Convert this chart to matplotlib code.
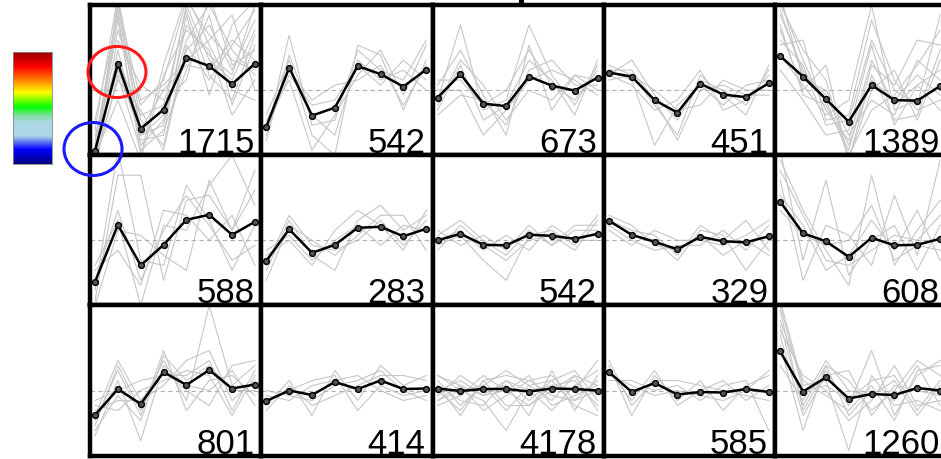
import numpy as np
import matplotlib
matplotlib.use("Agg")
import matplotlib.pyplot as plt
from matplotlib.colors import LinearSegmentedColormap
from matplotlib.patches import Ellipse

plt.rcParams.update({
    "font.family": "sans-serif",
    "font.sans-serif": ["Liberation Sans", "DejaVu Sans"],
})

# cluster sizes, row by row
counts = [1715, 542, 673, 451, 1389,
          588, 283, 542, 329, 608,
          801, 414, 4178, 585, 1260]

# mean profile of each cluster (8 time points, centred values)
means = [
    [-1.21, 0.53, -0.77, -0.39, 0.65, 0.48, 0.12, 0.53],
    [-0.73, 0.45, -0.51, -0.35, 0.48, 0.32, 0.07, 0.41],
    [-0.15, 0.32, -0.27, -0.32, 0.27, 0.09, -0.01, 0.25],
    [0.35, 0.27, -0.20, -0.45, 0.13, -0.09, -0.14, 0.14],
    [0.68, 0.27, -0.18, -0.63, 0.10, -0.20, -0.21, 0.08],
    [-0.83, 0.31, -0.50, -0.09, 0.41, 0.51, 0.11, 0.37],
    [-0.41, 0.22, -0.25, -0.09, 0.25, 0.27, 0.08, 0.23],
    [0.00, 0.13, -0.09, -0.10, 0.11, 0.09, 0.03, 0.13],
    [0.39, 0.11, -0.03, -0.18, 0.07, -0.02, -0.04, 0.08],
    [0.77, 0.14, -0.02, -0.33, 0.05, -0.10, -0.09, 0.03],
    [-0.49, 0.03, -0.27, 0.37, 0.11, 0.41, 0.04, 0.12],
    [-0.21, 0.00, -0.09, 0.17, 0.03, 0.20, 0.03, 0.04],
    [0.04, -0.01, 0.03, 0.03, -0.02, 0.04, 0.03, 0.00],
    [0.37, -0.03, 0.15, -0.08, -0.03, -0.04, 0.03, -0.03],
    [0.78, -0.02, 0.26, -0.16, -0.07, -0.09, 0.05, 0.00],
]

# a few member profiles per cluster (grey)
members = [
    [[-1.4, 1.8, -0.9, -0.5, 1.7, 0.6, 0.2, 1.2],
     [-1.0, 1.2, -0.3, 0.2, 1.8, 1.1, 0.6, 0.4],
     [-1.5, 0.3, -1.2, -0.8, 0.4, 1.5, -0.3, 0.9],
     [-0.8, 1.9, -0.6, -1.1, 0.9, 0.2, 0.9, 1.6],
     [-1.3, -0.2, -1.4, 0.3, 1.2, 0.8, -0.5, 0.2],
     [-1.2, 1.0, 0.1, -0.2, 0.2, 1.9, 0.5, 0.8],
     [-1.6, 0.8, -1.0, -0.9, 1.5, -0.1, 1.3, 1.8],
     [-0.6, 1.5, -1.3, 0.5, 1.9, 0.9, 0.0, -0.2],
     [-1.4, 0.2, -0.4, -1.2, 0.8, 1.3, 0.4, 1.4],
     [-1.1, 1.6, -0.8, 0.0, 0.5, 0.4, 1.0, 0.6],
     [-1.3, 1.4, -1.1, -0.6, 1.0, 1.7, 0.8, 0.3],
     [-0.9, 0.6, -0.5, -0.3, 1.6, 0.3, -0.2, 1.1],
     [-1.5, 1.7, -0.2, 0.1, 0.6, 1.0, 1.5, 0.0],
     [-1.2, 0.4, -0.9, -0.7, 1.3, 0.7, 0.3, 1.7]],
    [[-0.9, 1.1, -0.7, -0.6, 0.8, 0.4, 0.2, 1.0],
     [-0.5, 0.6, -0.9, -1.3, 0.9, 0.7, -0.4, 0.6],
     [-0.8, 0.3, -0.3, -0.2, 0.5, 0.1, 0.6, 0.2],
     [-0.6, 0.2, -1.2, -0.5, 0.3, 0.8, -0.1, 0.9],
     [-1.0, 0.7, -0.5, -0.9, 0.6, 0.2, 0.4, 0.0],
     [-0.7, 0.4, -0.2, 0.1, 0.2, 0.5, -0.3, 0.5]],
    [[-0.2, 1.3, -0.4, -0.2, 1.3, 0.3, -0.3, 0.5],
     [0.1, 0.8, -0.1, -0.9, 0.9, -0.4, 0.3, 0.2],
     [-0.4, 0.5, -0.6, -0.3, 0.6, 0.2, -0.5, 0.6],
     [0.0, 0.0, -0.9, -0.4, 0.2, 0.4, 0.2, -0.1],
     [-0.3, 0.6, 0.1, -0.6, 0.0, -0.2, 0.3, 0.0],
     [0.2, 0.2, -0.3, 0.0, 0.8, 0.1, -0.2, 0.4],
     [-0.5, -0.1, -0.2, -0.7, 0.4, 0.6, 0.1, 0.1]],
    [[0.3, 0.6, -0.1, -0.6, 0.2, 0.0, -0.3, 0.4],
     [0.4, 0.2, -1.1, -0.3, 0.1, -0.3, 0.1, 0.2],
     [0.2, 0.3, -0.3, -0.9, 0.3, -0.1, -0.5, 0.5],
     [0.5, 0.3, 0.0, -0.4, -0.3, 0.2, 0.0, 0.0],
     [0.3, 0.1, -0.4, -0.2, 0.4, -0.4, -0.2, 0.3],
     [0.4, 0.4, -0.2, -1.0, 0.0, 0.1, -0.1, -0.1]],
    [[1.8, 0.6, -0.4, -1.0, 0.6, -0.3, 0.1, 0.4],
     [1.2, 0.0, 0.5, -1.4, 0.3, -0.6, -0.5, 0.8],
     [0.9, 1.0, -0.6, -0.5, 1.4, 0.2, -0.4, -0.2],
     [1.5, 0.4, -0.2, -1.3, -0.4, -0.1, 0.5, 1.2],
     [0.4, -0.2, -0.9, -0.8, 0.9, -0.7, 0.1, -0.4],
     [1.7, 0.8, 0.2, -1.4, 0.0, 0.4, -0.6, 0.6],
     [0.7, 0.1, -0.5, -0.2, 1.7, -0.4, -0.2, 0.1],
     [1.3, -0.1, -0.3, -1.2, 0.5, 0.1, 1.0, 0.9],
     [1.6, 0.3, -0.1, -1.1, 0.2, -0.2, 0.3, -0.1],
     [1.0, 0.5, -0.7, -0.6, 1.0, 0.0, -0.3, 1.5],
     [1.9, 0.2, 0.0, -0.9, -0.2, -0.5, 0.6, 0.2]],
    [[-1.2, 1.3, 1.3, -0.8, 0.8, 0.9, 0.2, 1.4],
     [-0.5, 0.4, -1.3, 0.3, 0.2, 1.1, 1.7, 0.7],
     [-1.0, 1.8, -0.4, -0.5, 1.1, 0.4, -0.6, 0.3],
     [-0.6, -0.2, -0.9, 0.6, 0.5, 0.0, 0.5, -0.5],
     [-1.3, 0.2, 0.1, -0.3, -0.6, 1.2, 0.2, 1.0],
     [-0.8, 0.6, -0.8, 0.2, 0.9, 0.3, -0.4, -0.1]],
    [[-0.6, 0.4, -0.3, -0.6, 0.4, 0.7, 0.2, 0.5],
     [-0.3, 0.0, -0.5, 0.2, 0.6, 0.3, -0.2, 0.6],
     [-0.8, 0.3, 0.0, -0.3, 0.1, 0.5, 0.5, -0.2],
     [-0.2, 0.1, -0.4, 0.0, 0.3, -0.1, 0.3, 0.2],
     [-0.5, 0.5, -0.1, -0.2, 0.0, 0.4, -0.1, 0.4]],
    [[0.1, 0.4, 0.0, -0.3, 0.2, -0.1, 0.3, 0.3],
     [-0.1, 0.1, -0.4, -0.8, 0.1, 0.2, -0.1, 0.5],
     [0.0, 0.2, -0.2, 0.1, -0.2, 0.3, 0.0, 0.0],
     [0.2, -0.1, 0.1, -0.2, 0.3, -0.1, 0.2, 0.2],
     [-0.2, 0.3, -0.1, -0.4, 0.0, 0.1, -0.2, 0.4]],
    [[0.4, 0.2, 0.1, -0.3, 0.3, 0.0, 0.4, -0.2],
     [0.3, 0.0, -0.2, -0.1, -0.1, 0.2, -0.2, 0.3],
     [0.5, 0.3, -0.1, -0.2, 0.1, -0.3, 0.0, -0.3],
     [0.4, 0.1, 0.0, -0.4, 0.2, 0.1, -0.6, 0.0],
     [0.2, -0.1, 0.2, 0.0, 0.0, -0.1, 0.1, 0.4]],
    [[1.6, 0.6, -0.2, -0.9, 1.3, -0.5, 0.2, 0.8],
     [1.2, -0.8, 0.3, 0.1, -0.5, 0.9, -0.3, 1.6],
     [0.9, 0.3, -0.6, -0.3, 0.4, -0.2, 0.6, -0.4],
     [1.8, -0.4, 1.2, -0.7, 0.0, 0.3, -0.6, 0.3],
     [0.6, 0.1, -0.1, 0.0, 0.7, -0.4, -0.1, -0.2],
     [1.4, 0.5, -0.4, -0.5, -0.2, 0.1, 0.0, 0.5]],
    [[-0.7, 0.5, -0.4, 0.6, -0.2, 1.7, 0.1, 0.5],
     [-0.3, -0.4, 0.0, 0.2, 0.4, 0.3, -0.5, 0.3],
     [-0.9, 0.2, -1.0, 0.5, 0.1, 0.0, 0.4, -0.3],
     [-0.4, -0.2, -0.2, 0.1, 0.6, 0.8, -0.2, 0.2],
     [-0.6, 0.4, -0.5, 0.8, -0.4, 0.2, 0.3, -0.1],
     [-0.2, 0.0, 0.2, 0.3, 0.3, 0.6, -0.4, 0.4],
     [-0.5, 0.6, -0.2, 0.4, 0.0, -0.3, 0.5, 0.6],
     [-0.8, -0.1, -0.6, 0.7, 0.2, 0.5, 0.0, 0.0]],
    [[-0.3, 0.2, -0.5, 0.4, -0.2, 0.5, 0.1, 0.3],
     [-0.1, -0.2, 0.1, 0.2, 0.3, 0.0, -0.2, -0.1],
     [-0.4, 0.1, -0.3, -0.1, 0.1, 0.3, 0.3, 0.2],
     [-0.2, 0.0, 0.2, 0.3, -0.4, 0.1, -0.1, 0.0],
     [0.0, -0.1, -0.2, 0.1, 0.2, 0.4, 0.0, -0.2]],
    [[0.2, -0.3, 0.1, 0.4, 0.1, -0.2, 0.3, -0.4],
     [-0.2, 0.1, -0.4, -0.1, 0.2, 0.3, -0.2, 0.2],
     [0.1, -0.5, 0.2, -0.3, -0.3, 0.1, 0.0, 0.6],
     [0.0, 0.2, -0.1, 0.2, -0.2, 0.2, 0.4, -0.2],
     [-0.3, -0.1, 0.3, 0.0, 0.3, -0.3, -0.1, 0.1],
     [0.3, 0.0, -0.2, -0.8, 0.0, 0.1, 0.2, -0.3],
     [-0.1, 0.3, 0.0, 0.1, -0.5, 0.4, -0.4, 0.3],
     [0.1, -0.2, -0.3, 0.2, 0.0, -0.4, 0.1, 0.4],
     [-0.2, 0.0, 0.1, -0.4, 0.1, 0.2, -0.3, -0.5],
     [0.3, 0.1, -0.1, 0.0, -0.3, 0.0, 0.3, 0.1],
     [0.0, -0.4, 0.2, 0.3, 0.2, -0.1, -0.2, 0.0]],
    [[0.5, -0.5, 0.3, -0.2, 0.2, -0.4, 0.1, 0.3],
     [0.2, 0.2, 0.0, 0.1, -0.2, 0.1, 0.2, -0.8],
     [0.4, -0.2, 0.4, -0.3, 0.0, 0.2, -0.2, 0.1],
     [0.3, 0.1, -0.1, 0.0, -0.1, -0.2, 0.0, 0.4],
     [0.6, -0.3, 0.2, 0.2, 0.1, 0.0, -0.1, -0.2]],
    [[1.6, -0.4, 0.4, -0.3, 0.8, -0.5, 0.3, 0.6],
     [1.2, 0.3, 0.0, -0.6, -0.2, 0.5, -0.3, -0.2],
     [0.9, -0.8, 0.5, 0.2, -0.4, 0.0, 0.6, 0.3],
     [1.8, 0.1, 0.2, -1.2, 0.3, -0.3, -0.2, -0.4],
     [0.5, -0.2, 0.6, 0.0, -0.1, 0.2, -0.5, 0.1],
     [1.4, 0.2, -0.1, -0.4, 0.1, -0.6, 0.4, 0.5],
     [1.1, -0.5, 0.3, 0.4, -0.5, 0.1, 0.0, -0.1],
     [1.7, 0.0, 0.1, -0.2, 0.2, 0.3, -0.4, 0.2],
     [1.3, -0.3, 0.5, -0.5, 0.0, -0.2, 0.5, -0.3]],
]

# colour key on the left (top to bottom)
key_colors = ["#990000", "#ff0000", "#ff8c00", "#ffff00", "#00ff00",
              "#80e0a0", "#add8e6", "#add8e6", "#0000ff", "#000080"]
key_stops = [0.0, 0.13, 0.26, 0.36, 0.49, 0.57, 0.63, 0.75, 0.87, 1.0]

W, H = 941, 460
fig = plt.figure(figsize=(W / 100, H / 100), dpi=100)

t = np.arange(8)
x0, y0 = 90, 6          # top-left corner of the grid, pixels
pw, ph = 171.3, 150.2   # panel size, pixels

for k in range(15):
    r, c = divmod(k, 5)
    left = x0 + c * pw
    top = y0 + r * ph
    ax = fig.add_axes([left / W, (H - top - ph) / H, pw / W, ph / H])
    for prof in members[k]:
        ax.plot(t, prof, color="#c6c6c6", lw=0.8, zorder=1)
    ax.axhline(0, color="#b0b0b0", lw=0.8, ls=(0, (4, 3)), zorder=1.5)
    ax.plot(t, means[k], color="black", lw=1.8, marker="o", ms=4.2,
            mfc="#555555", mec="black", mew=1.0, zorder=3)
    ax.annotate(str(counts[k]), xy=(1, 0), xycoords="axes fraction",
                xytext=(-7, 3), textcoords="offset pixels",
                ha="right", va="baseline", fontsize=25, zorder=4)
    ax.set_xlim(-0.22, 7.28)
    ax.set_ylim(-1.3, 1.7)
    ax.set_xticks([])
    ax.set_yticks([])
    for s in ax.spines.values():
        s.set_linewidth(3.2)
        s.set_color("black")

# colour key
cmap = LinearSegmentedColormap.from_list("key", list(zip(key_stops, key_colors)))
kax = fig.add_axes([13 / W, (H - 165) / H, 39 / W, 112 / H])
kax.imshow(np.linspace(0, 1, 256).reshape(-1, 1), cmap=cmap, aspect="auto")
kax.set_xticks([])
kax.set_yticks([])
for s in kax.spines.values():
    s.set_linewidth(0.6)
    s.set_color("#888888")

# overlay for the highlight circles and the clipped title stroke
ov = fig.add_axes([0, 0, 1, 1])
ov.set_xlim(0, W)
ov.set_ylim(H, 0)
ov.axis("off")
ov.patch.set_alpha(0)
ov.add_patch(Ellipse((117, 73), 58, 51, fill=False, ec="#ff1a1a", lw=2.2))
ov.add_patch(Ellipse((93, 150), 58, 53, fill=False, ec="#1a1aff", lw=2.2))
ov.plot([521, 521], [0, 5], color="black", lw=3.6, solid_capstyle="butt")

fig.savefig("out.png", dpi=100)
